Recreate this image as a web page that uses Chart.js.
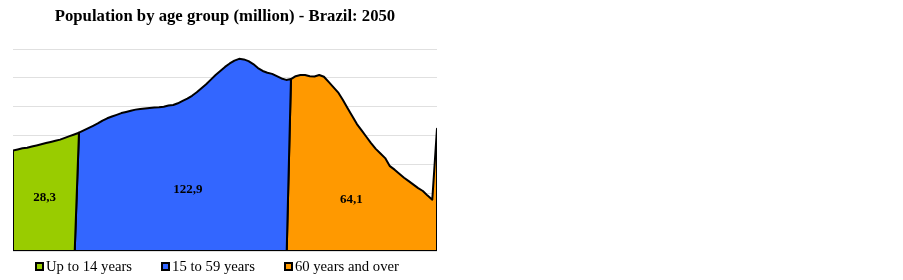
<!DOCTYPE html>
<html>
<head>
<meta charset="utf-8">
<script src="https://cdn.jsdelivr.net/npm/chart.js@4/dist/chart.umd.min.js"></script>
<style>
  html, body { margin: 0; padding: 0; background: #fff; }
  #wrap { position: absolute; left: 0; top: 0; width: 450px; height: 280px; }
  #legend { position: absolute; left: 35px; top: 257px; display: flex; gap: 29px;
    font-family: 'Liberation Serif', serif; font-size: 14.7px; color: #000; line-height: 18px; }
  .item { display: flex; align-items: center; white-space: nowrap; }
  .box { width: 5px; height: 5px; border: 2px solid #000; margin-right: 2px; }
</style>
</head>
<body>
<div id="wrap"><canvas id="c"></canvas></div>
<div id="legend"></div>
<script>
// Single ages (last = 90 and over)
const ages = [0,1,2,3,4,5,6,7,8,9,10,11,12,13,14,15,16,17,18,19,20,21,22,23,24,25,26,27,28,29,30,
  31,32,33,34,35,36,37,38,39,40,41,42,43,44,45,46,47,48,49,50,51,52,53,54,55,56,57,58,59,60,
  61,62,63,64,65,66,67,68,69,70,71,72,73,74,75,76,77,78,79,80,81,82,83,84,85,86,87,88,89,90];
// Population by single age, millions
const population = [1.74,1.76,1.78,1.79,1.81,1.83,1.85,1.87,1.89,1.91,1.93,1.96,1.99,2.02,2.05,
  2.09,2.13,2.17,2.21,2.26,2.30,2.33,2.36,2.39,2.41,2.43,2.45,2.46,2.47,2.48,
  2.485,2.49,2.50,2.52,2.53,2.56,2.60,2.64,2.69,2.75,
  2.82,2.89,2.97,3.05,3.12,3.19,3.25,3.30,3.33,3.32,
  3.29,3.24,3.17,3.12,3.09,3.07,3.03,2.99,2.965,2.98,
  3.03,3.05,3.05,3.03,3.025,3.05,3.02,2.93,2.84,2.75,
  2.62,2.48,2.34,2.20,2.09,1.98,1.87,1.77,1.69,1.61,
  1.47,1.41,1.34,1.27,1.21,1.15,1.09,1.04,0.96,0.89,2.12];
const groupNames = ["Up to 14 years", "15 to 59 years", "60 years and over"];
const groupStart = [0, 14, 59];
const groupEnd = [14, 59, 90];
const groupTotals = ["28,3", "122,9", "64,1"];
const groupColors = ["#99cc00", "#3366ff", "#ff9900"];
// label anchor (age, value) for the totals — styling
const labelAnchor = [[6.7, 0.92], [37.1, 1.06], [71.8, 0.89]];

function groupPoints(g) {
  const s = groupStart[g], e = groupEnd[g];
  const first = ages.indexOf(s), last = ages.indexOf(e);
  const bStart = s === ages[0] ? s : s - 0.9;
  const bEnd = e === ages[ages.length - 1] ? e : e - 0.9;
  const pts = [{x: bStart, y: 0}];
  for (let i = first; i <= last; i++) pts.push({x: ages[i], y: population[i]});
  pts.push({x: bEnd, y: 0});
  pts.push({x: bStart, y: 0});
  return pts;
}

const datasets = groupNames.map((n, g) => ({
  label: n,
  data: groupPoints(g),
  backgroundColor: groupColors[g],
  borderColor: "#000",
  borderWidth: 2,
  borderJoinStyle: "round",
  fill: "shape",
  pointRadius: 0,
  tension: 0
}));

const totalsPlugin = {
  id: "totals",
  afterDatasetsDraw(chart) {
    const ctx = chart.ctx;
    const xs = chart.scales.x, ys = chart.scales.y;
    ctx.save();
    ctx.font = "bold 13px 'Liberation Serif'";
    ctx.fillStyle = "#000";
    ctx.textAlign = "center";
    ctx.textBaseline = "middle";
    groupTotals.forEach((t, g) => {
      ctx.fillText(t, xs.getPixelForValue(labelAnchor[g][0]), ys.getPixelForValue(labelAnchor[g][1]));
    });
    ctx.restore();
  }
};

// HTML legend built from the group names/colours
const legendEl = document.getElementById("legend");
groupNames.forEach((n, g) => {
  const it = document.createElement("div");
  it.className = "item";
  const b = document.createElement("span");
  b.className = "box";
  b.style.background = groupColors[g];
  const t = document.createElement("span");
  t.textContent = n;
  it.appendChild(b); it.appendChild(t);
  legendEl.appendChild(it);
});

new Chart(document.getElementById("c"), {
  type: "line",
  data: { datasets },
  plugins: [totalsPlugin],
  options: {
    responsive: true,
    maintainAspectRatio: false,
    animation: false,
    layout: { padding: { left: 13, right: 13, top: 0, bottom: 29 } },
    scales: {
      x: { type: "linear", min: 0, max: 90, display: false },
      y: {
        min: 0, max: 3.5,
        ticks: { display: false, stepSize: 0.5 },
        border: { display: false },
        grid: { color: "#e0e0e0", lineWidth: 1, drawTicks: false }
      }
    },
    plugins: {
      title: {
        display: true,
        text: "Population by age group (million) - Brazil: 2050",
        color: "#000",
        font: { family: "'Liberation Serif'", size: 16.7, weight: "bold" },
        padding: { top: 7, bottom: 22 }
      },
      legend: { display: false },
      tooltip: { enabled: false }
    }
  }
});
</script>
</body>
</html>
